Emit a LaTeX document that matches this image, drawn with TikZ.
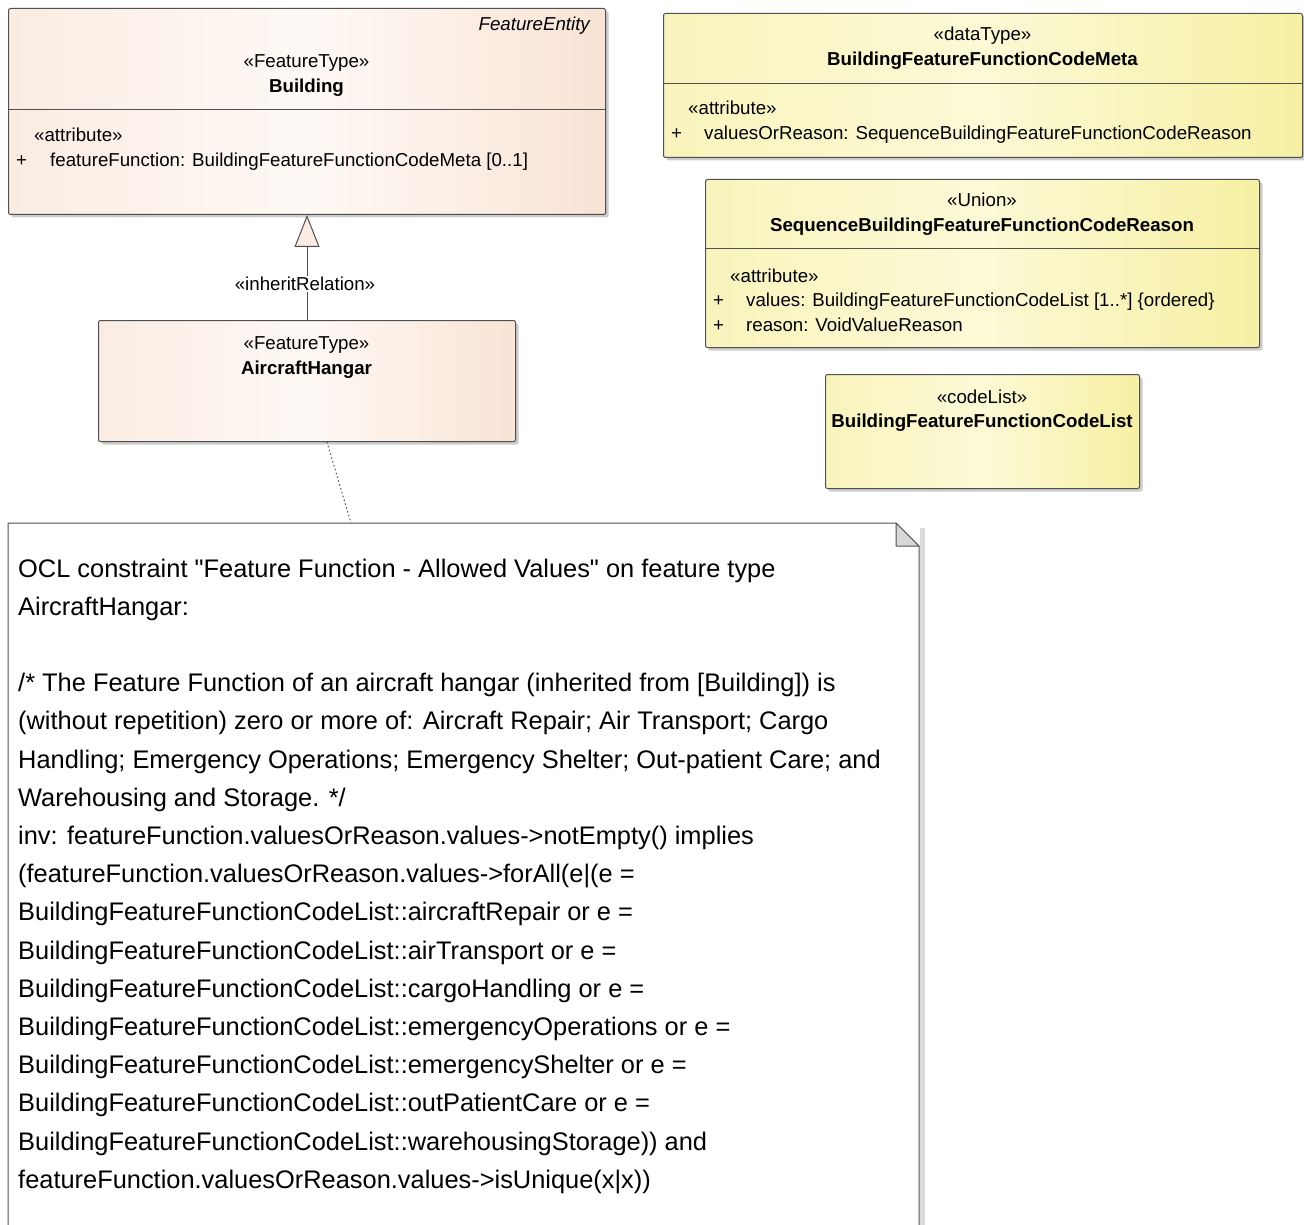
\documentclass[tikz,border=0pt]{standalone}
\usepackage{fontspec}
\setmainfont{Liberation Sans}[Ligatures=TeXOff]
\usetikzlibrary{arrows.meta,shadows,calc}

\definecolor{peachR}{RGB}{249,228,213}
\definecolor{peachM}{RGB}{254,249,245}
\definecolor{peachL}{RGB}{250,236,226}
\definecolor{yelR}{RGB}{246,240,163}
\definecolor{yelM}{RGB}{252,249,214}
\definecolor{yelL}{RGB}{249,244,188}
\definecolor{edgegray}{RGB}{80,80,80}
\definecolor{foldgray}{RGB}{216,216,216}

\newcommand\boxfont{\fontsize{18.7}{25}\selectfont}
\newcommand\notefont{\fontsize{25.4}{38.2}\selectfont}

\tikzset{
  classbox/.style={draw=edgegray, line width=1pt, rounded corners=2pt,
    anchor=north west, inner sep=0pt,
    drop shadow={shadow xshift=3pt, shadow yshift=-3pt, fill=black, opacity=0.2}},
  featurebox/.style={classbox, left color=peachL, right color=peachR, middle color=peachM},
  yellowbox/.style={classbox, left color=yelL, right color=yelR, middle color=yelM},
  stereo/.style={font=\boxfont, inner sep=0pt, anchor=base},
  cname/.style={font=\boxfont\bfseries, inner sep=0pt, anchor=base},
  attr/.style={font=\boxfont, inner sep=0pt, anchor=base west},
  sepline/.style={draw=edgegray, line width=1pt},
  conn/.style={draw=edgegray, line width=1pt},
}

\begin{document}
\begin{tikzpicture}[x=1pt, y=-1pt]
  \clip (0,0) rectangle (1304,1225);
  \useasboundingbox (0,0) rectangle (1304,1225);
  \fill[white] (0,0) rectangle (1304,1225);

  % Building
  \node[featurebox, minimum width=597pt, minimum height=206pt] (building) at (8,8) {};
  \node[font=\boxfont\itshape, inner sep=0pt, anchor=base east] (bent) at (590,31) {FeatureEntity};
  \node[stereo] (bst) at (306.5,68) {«FeatureType»};
  \node[cname] (bname) at (306.5,93) {Building};
  \draw[sepline] (building.west |- 0,110) -- (building.east |- 0,110);
  \node[attr] (battr) at (34,142) {«attribute»};
  \node[attr] (bplus) at (16,167) {+};
  \node[attr] (bff) at (50,167) {featureFunction: BuildingFeatureFunctionCodeMeta [0..1]};

  % AircraftHangar
  \node[featurebox, minimum width=417pt, minimum height=121pt] (hangar) at (98,320) {};
  \node[stereo] (hst) at (306.5,349) {«FeatureType»};
  \node[cname] (hname) at (306.5,374) {AircraftHangar};

  % BuildingFeatureFunctionCodeMeta
  \node[yellowbox, minimum width=639pt, minimum height=144pt] (meta) at (663,13) {};
  \node[stereo] (mst) at (982.5,41) {«dataType»};
  \node[cname] (mname) at (982.5,66) {BuildingFeatureFunctionCodeMeta};
  \draw[sepline] (meta.west |- 0,84) -- (meta.east |- 0,84);
  \node[attr] (mattr) at (688,115) {«attribute»};
  \node[attr] (mplus) at (671,140) {+};
  \node[attr] (mvr) at (704,140) {valuesOrReason: SequenceBuildingFeatureFunctionCodeReason};

  % SequenceBuildingFeatureFunctionCodeReason
  \node[yellowbox, minimum width=554pt, minimum height=168pt] (seq) at (705,179) {};
  \node[stereo] (sst) at (982,207) {«Union»};
  \node[cname] (sname) at (982,232) {SequenceBuildingFeatureFunctionCodeReason};
  \draw[sepline] (seq.west |- 0,249) -- (seq.east |- 0,249);
  \node[attr] (sattr) at (730,282) {«attribute»};
  \node[attr] (splus1) at (713,306) {+};
  \node[attr] (svalues) at (746,306) {values: BuildingFeatureFunctionCodeList [1..*] \{ordered\}};
  \node[attr] (splus2) at (713,331) {+};
  \node[attr] (sreason) at (746,331) {reason: VoidValueReason};

  % BuildingFeatureFunctionCodeList
  \node[yellowbox, minimum width=314pt, minimum height=114pt] (codelist) at (825,374) {};
  \node[stereo] (cst) at (982,403) {«codeList»};
  \node[cname] (cname) at (982,427) {BuildingFeatureFunctionCodeList};

  % generalization AircraftHangar -> Building
  \draw[conn, -{Triangle[length=32pt, width=25pt, fill=peachL]}] (hangar.north) -- (building.south);
  \node[font=\boxfont, fill=white, inner sep=1pt] (inh) at (305,284) {«inheritRelation»};

  % constraint note
  \fill[black!14] (920,528) rectangle (925,1240);
  \draw[edgegray, line width=1pt, fill=white]
    (8,1240) -- (8,523) -- (896,523) -- (919,546) -- (919,1240);
  \draw[edgegray, line width=1pt, fill=foldgray, line join=round]
    (896,523) -- (919,546) -- (896,546) -- cycle;
  \coordinate (notetop) at (351,523);
  \draw[conn, dash pattern=on 1.5pt off 2.5pt] ($(hangar.south west)+(229,0)$) -- (notetop);

  \node[font=\notefont, inner sep=0pt, anchor=base west] (note) at (18,577) {\parbox[t]{895pt}{%
    OCL constraint "Feature Function - Allowed Values" on feature type\\
    AircraftHangar:\\
    \mbox{}\\
    /* The Feature Function of an aircraft hangar (inherited from [Building]) is\\
    (without repetition) zero or more of: Aircraft Repair; Air Transport; Cargo\\
    Handling; Emergency Operations; Emergency Shelter; Out-patient Care; and\\
    Warehousing and Storage. */\\
    inv: featureFunction.valuesOrReason.values->notEmpty() implies\\
    (featureFunction.valuesOrReason.values->forAll(e|(e =\\
    BuildingFeatureFunctionCodeList::aircraftRepair or e =\\
    BuildingFeatureFunctionCodeList::airTransport or e =\\
    BuildingFeatureFunctionCodeList::cargoHandling or e =\\
    BuildingFeatureFunctionCodeList::emergencyOperations or e =\\
    BuildingFeatureFunctionCodeList::emergencyShelter or e =\\
    BuildingFeatureFunctionCodeList::outPatientCare or e =\\
    BuildingFeatureFunctionCodeList::warehousingStorage)) and\\
    featureFunction.valuesOrReason.values->isUnique(x|x))}};
\end{tikzpicture}
\end{document}
